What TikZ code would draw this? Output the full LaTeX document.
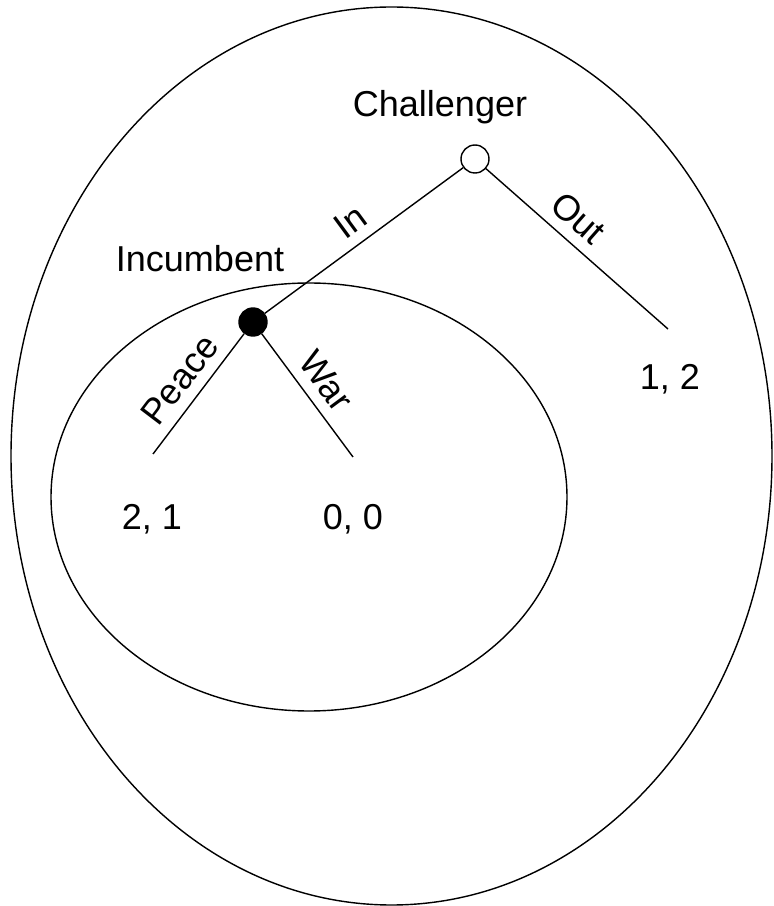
\documentclass[tikz,border=0pt]{standalone}
\usepackage{fontspec}
\setmainfont{Liberation Sans}
\begin{document}
\begin{tikzpicture}[line width=0.8pt,
    decnode/.style={circle,draw,inner sep=0pt,minimum size=0.56cm},
    lbl/.style={font=\fontsize{20.5}{24}\selectfont,anchor=base},
    movelbl/.style={lbl,anchor=south,sloped,inner sep=6pt}]
        \useasboundingbox (0,0) rectangle (15.46,18.12);
        % information sets
        \draw (7.83,9.0) ellipse [x radius=7.61,y radius=8.98];
        \draw (6.18,8.18) ellipse [x radius=5.16,y radius=4.28];
        % decision nodes
        \node[decnode,fill=white] (chal) at (9.5,14.94) {};
        \node[decnode,fill=black] (inc) at (5.06,11.68) {};
        \coordinate (outend) at (13.36,11.54);
        \coordinate (peaceend) at (3.06,9.04);
        \coordinate (warend) at (7.06,8.98);
        \node[lbl] (chaltxt) at (8.8,15.78) {Challenger};
        \node[lbl] (inctxt) at (4.0,12.68) {Incumbent};
        % moves
        \draw (inc) -- node[movelbl] {In} (chal);
        \draw (chal) -- node[movelbl,pos=0.42] {Out} (outend);
        \draw (inc) -- node[movelbl] {Peace} (peaceend);
        \draw (inc) -- node[movelbl] {War} (warend);
        % payoffs
        \node[lbl] (pout) at (13.4,10.32) {1, 2};
        \node[lbl] (ppeace) at (3.04,7.52) {2, 1};
        \node[lbl] (pwar) at (7.06,7.52) {0, 0};
    \end{tikzpicture}
\end{document}
